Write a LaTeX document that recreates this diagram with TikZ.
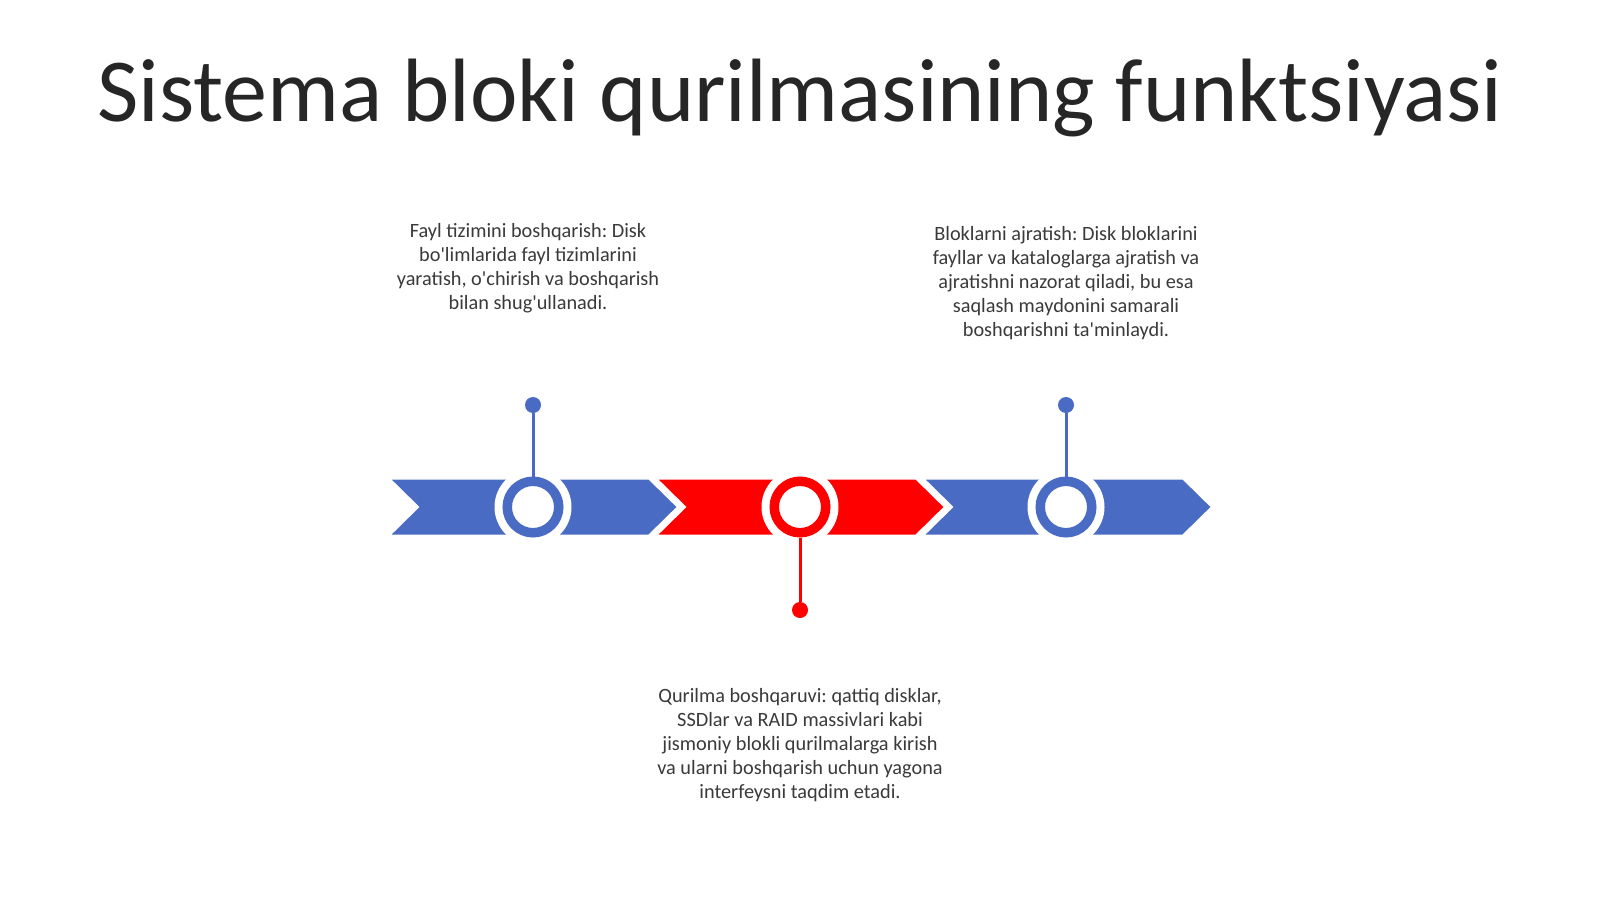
\documentclass[tikz,border=0pt]{standalone}
\usepackage{fontspec}
\setmainfont{Carlito}[Ligatures=TeXOff]
\definecolor{segblue}{HTML}{4A6BC4}
\definecolor{segred}{HTML}{FF0000}
\definecolor{titlecol}{HTML}{262626}
\definecolor{txtcol}{HTML}{3A3A3A}
\tikzset{
  segshape/.style={draw=white, line width=1pt, line join=miter},
  halo/.style={circle, fill=white, minimum size=38.5pt, inner sep=0pt},
  ring/.style={circle, draw=#1, fill=white, line width=4.75pt, minimum size=25.75pt, inner sep=0pt},
  pindot/.style={circle, fill=#1, minimum size=8pt, inner sep=0pt},
  stem/.style={draw=#1, line width=1.5pt},
  desc/.style={align=center, text=txtcol, inner sep=0pt, font=\fontsize{10.15pt}{12pt}\selectfont\frenchspacing},
}
\begin{document}
\begin{tikzpicture}[x=0.5pt,y=-0.5pt]
\useasboundingbox (0,0) rectangle (1600,899);
\fill[white] (0,0) rectangle (1600,899);
% title
\node[anchor=base, text=titlecol, inner sep=0pt, font=\fontsize{45pt}{54pt}\selectfont] (title) at (800,121) {Sistema bloki qurilmasining funktsiyasi};
% chevron segments
\fill[segblue, segshape] (389,478.5) -- ++(260,0) -- ++(29,28.5) -- ++(-29,28.5) -- ++(-260,0) -- ++(29,-28.5) -- cycle;
\fill[segred, segshape] (656,478.5) -- ++(260,0) -- ++(29,28.5) -- ++(-29,28.5) -- ++(-260,0) -- ++(29,-28.5) -- cycle;
\fill[segblue, segshape] (923,478.5) -- ++(260,0) -- ++(29,28.5) -- ++(-29,28.5) -- ++(-260,0) -- ++(29,-28.5) -- cycle;
% halos and rings
\node[halo] (h1) at (533,507) {};
\node[halo] (h2) at (800,507) {};
\node[halo] (h3) at (1066,507) {};
\node[ring=segblue] (c1) at (h1) {};
\node[ring=segred] (c2) at (h2) {};
\node[ring=segblue] (c3) at (h3) {};
% pins
\node[pindot=segblue] (d1) at (533,405) {};
\node[pindot=segred] (d2) at (800,610) {};
\node[pindot=segblue] (d3) at (1066,405) {};
\draw[stem=segblue] (d1) -- (c1);
\draw[stem=segred] (c2) -- (d2);
\draw[stem=segblue] (d3) -- (c3);
% descriptions
\node[desc, anchor=north] (t1) at (528,223) {Fayl tizimini boshqarish: Disk\\bo'limlarida fayl tizimlarini\\yaratish, o'chirish va boshqarish\\bilan shug'ullanadi.};
\node[desc, anchor=north] (t3) at (1066,226) {Bloklarni ajratish: Disk bloklarini\\fayllar va kataloglarga ajratish va\\ajratishni nazorat qiladi, bu esa\\saqlash maydonini samarali\\boshqarishni ta'minlaydi.};
\node[desc, anchor=north] (t2) at (800,688) {Qurilma boshqaruvi: qattiq disklar,\\SSDlar va RAID massivlari kabi\\jismoniy blokli qurilmalarga kirish\\va ularni boshqarish uchun yagona\\interfeysni taqdim etadi.};
\end{tikzpicture}
\end{document}
